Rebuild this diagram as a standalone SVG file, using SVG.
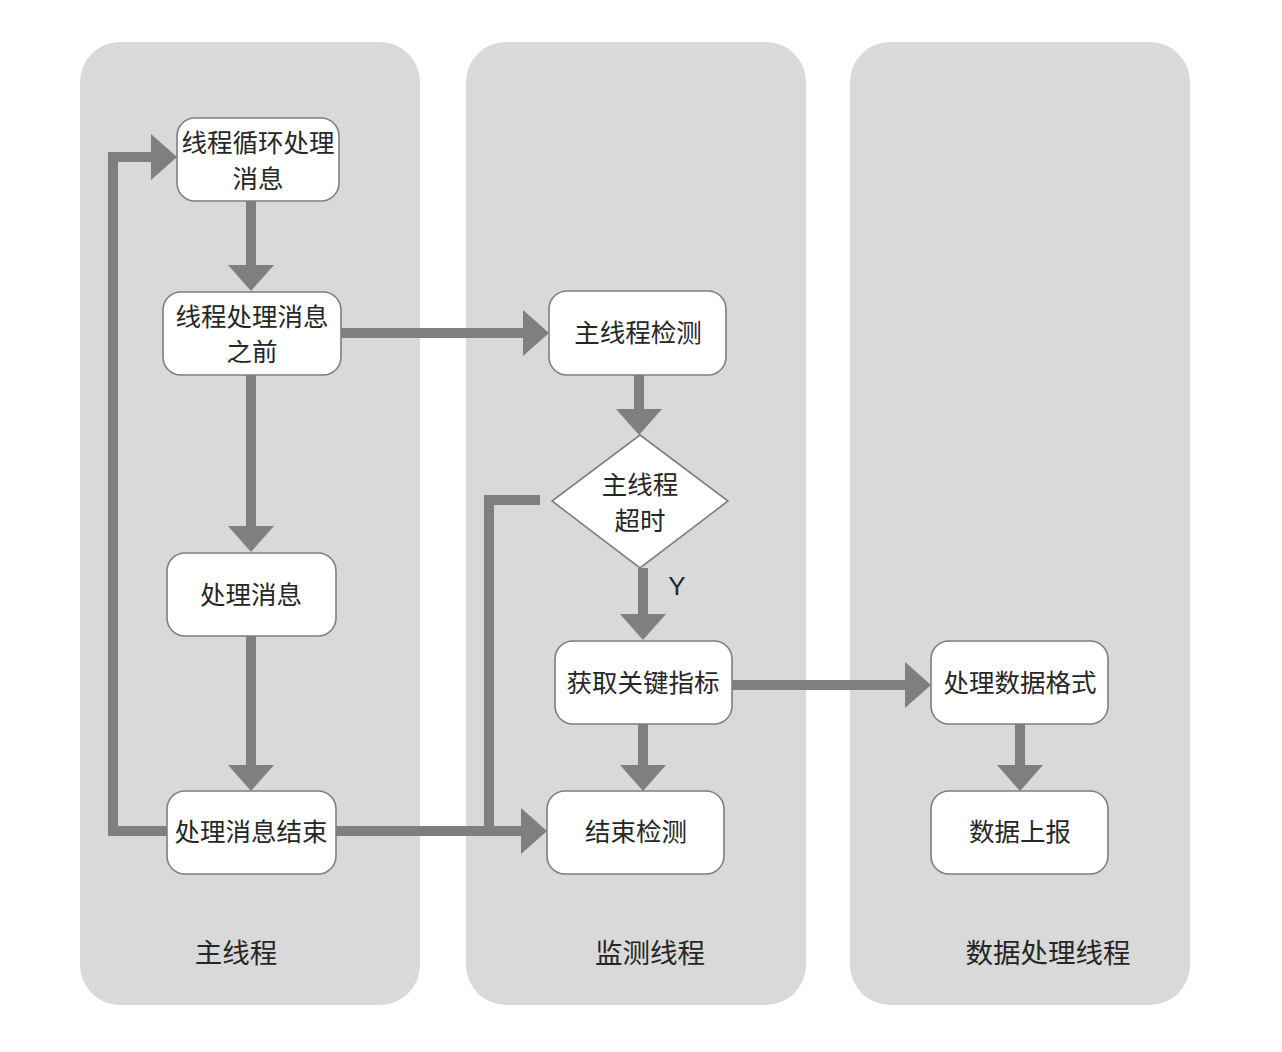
<svg xmlns="http://www.w3.org/2000/svg" width="1282" height="1052" viewBox="0 0 1282 1052">
<style>
.lane{fill:#d9d9d9}
.node{fill:#ffffff;stroke:#7f7f7f;stroke-width:1.6}
.t{font-family:"Noto Sans CJK SC","Noto Sans",sans-serif;font-size:25.5px;fill:#262626;text-anchor:middle}
.lt{font-family:"Noto Sans CJK SC","Noto Sans",sans-serif;font-size:27.5px;fill:#262626;text-anchor:middle}
.c{fill:none;stroke:#7f7f7f;stroke-width:10;marker-end:url(#ah)}
.cn{fill:none;stroke:#7f7f7f;stroke-width:10}
</style>
<defs>
<marker id="ah" markerUnits="userSpaceOnUse" markerWidth="26" markerHeight="46" refX="0" refY="23" orient="auto" viewBox="0 0 26 46">
<path d="M0,0 L26,23 L0,46 Z" fill="#7f7f7f"/>
</marker>
</defs>
<rect width="1282" height="1052" fill="#ffffff"/>
<g id="lanes">
<rect class="lane" x="80" y="42" width="340" height="963" rx="40"/>
<rect class="lane" x="466" y="42" width="340" height="963" rx="40"/>
<rect class="lane" x="850" y="42" width="340" height="963" rx="40"/>
<text class="lt" x="236" y="963">主线程</text>
<text class="lt" x="650" y="963">监测线程</text>
<text class="lt" x="1048" y="963">数据处理线程</text>
</g>
<g id="connectors">
<path class="c" d="M251,201 V265"/>
<path class="c" d="M251,375 V526"/>
<path class="c" d="M251,636 V765"/>
<path class="c" d="M167,831 H113 V157 H151"/>
<path class="c" d="M341,333 H523"/>
<path class="c" d="M639,375 V409"/>
<path class="c" d="M643,568 V614"/>
<path class="c" d="M540,500 H489 V831 H521"/>
<path class="cn" d="M336,831 H521"/>
<path class="c" d="M643,724 V765"/>
<path class="c" d="M732,685 H905"/>
<path class="c" d="M1020,724 V765"/>
<text x="677" y="595" font-family="Liberation Sans, Arial, sans-serif" font-size="26" fill="#262626" text-anchor="middle">Y</text>
</g>
<g id="n1"><rect class="node" x="177" y="118" width="162" height="83" rx="18"/><text class="t" x="258" y="152">线程循环处理</text><text class="t" x="258" y="188">消息</text></g>
<g id="n2"><rect class="node" x="163" y="292" width="178" height="83" rx="18"/><text class="t" x="252" y="326">线程处理消息</text><text class="t" x="252" y="361">之前</text></g>
<g id="n3"><rect class="node" x="167" y="553" width="169" height="83" rx="18"/><text class="t" x="251" y="604">处理消息</text></g>
<g id="n4"><rect class="node" x="167" y="791" width="169" height="83" rx="18"/><text class="t" x="251" y="841">处理消息结束</text></g>
<g id="n5"><rect class="node" x="549" y="291" width="177" height="84" rx="18"/><text class="t" x="638" y="342">主线程检测</text></g>
<g id="d1"><polygon class="node" points="640,435 728,501 640,568 552,501"/><text class="t" x="640" y="494">主线程</text><text class="t" x="640" y="530">超时</text></g>
<g id="n6"><rect class="node" x="555" y="641" width="177" height="83" rx="18"/><text class="t" x="643" y="692">获取关键指标</text></g>
<g id="n7"><rect class="node" x="547" y="791" width="177" height="83" rx="18"/><text class="t" x="636" y="841">结束检测</text></g>
<g id="n8"><rect class="node" x="931" y="641" width="177" height="83" rx="18"/><text class="t" x="1020" y="692">处理数据格式</text></g>
<g id="n9"><rect class="node" x="931" y="791" width="177" height="83" rx="18"/><text class="t" x="1020" y="841">数据上报</text></g>
</svg>
